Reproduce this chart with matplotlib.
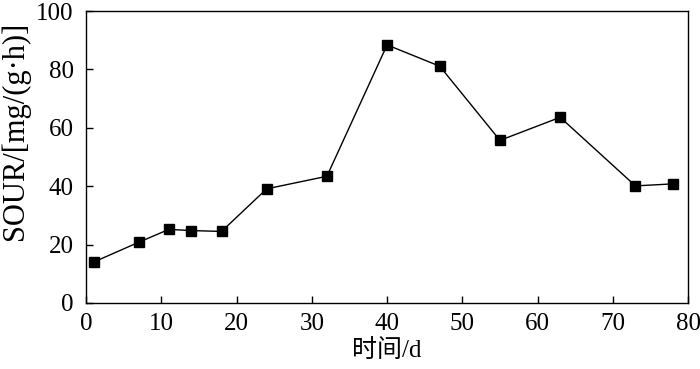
import matplotlib
matplotlib.use('Agg')
import matplotlib.pyplot as plt

# 时间 (d) 与 SOUR 值
days = [1, 7, 11, 14, 18, 24, 32, 40, 47, 55, 63, 73, 78]
sour = [14.0, 20.8, 25.2, 24.8, 24.5, 39.1, 43.4, 88.4, 81.1, 55.7, 63.6, 40.1, 40.8]

plt.rcParams['font.family'] = ['Liberation Serif', 'Noto Sans CJK SC']

fig = plt.figure(figsize=(7, 3.69), dpi=100)
ax = fig.add_axes([0.123, 0.179, 0.86, 0.791])

ax.plot(days, sour, color='black', linewidth=1.0, marker='s', markersize=7,
        markerfacecolor='black', markeredgecolor='black')

ax.set_xlim(0, 80)
ax.set_ylim(0, 100)
ax.set_xticks(range(0, 81, 10))
ax.set_yticks(range(0, 101, 20))
ax.tick_params(direction='in', length=5, width=1, labelsize=18, top=False, right=False)
ax.tick_params(axis='x', pad=7)
ax.tick_params(axis='y', pad=9)
for s in ax.spines.values():
    s.set_linewidth(1.0)

ax.set_xlabel('时间/d', fontsize=18)
ax.set_ylabel('SOUR/[mg/(g·h)]', fontsize=22)
ax.xaxis.set_label_coords(0.5, -0.125)
ax.yaxis.set_label_coords(-0.093, 0.59)

fig.savefig('out.png', dpi=100)
